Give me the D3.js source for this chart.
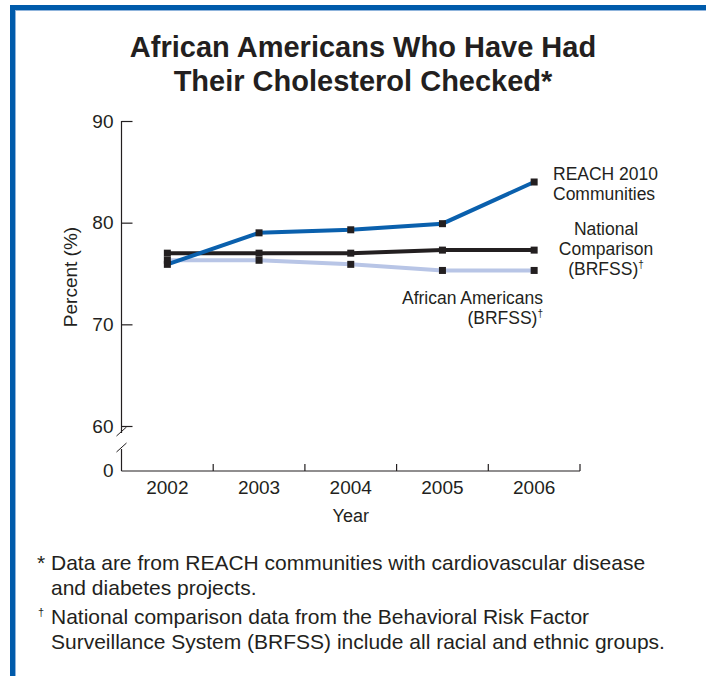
<!DOCTYPE html>
<html>
<head>
<meta charset="utf-8">
<script src="https://cdn.jsdelivr.net/npm/d3@7"></script>
<style>
  body { margin: 0; background: #fff; }
  svg { display: block; font-family: "Liberation Sans", Arial, Helvetica, sans-serif; }
  text { fill: #231f20; }
</style>
</head>
<body>
<svg id="chart"></svg>
<script>
// data
var years = ["2002", "2003", "2004", "2005", "2006"];
var reach = [75.9, 79.0, 79.3, 79.9, 84.0];
var national = [77.0, 77.0, 77.0, 77.3, 77.3];
var africanAm = [76.3, 76.3, 75.9, 75.3, 75.3];
var yTicks = [60, 70, 80, 90];

var titleLines = ["African Americans Who Have Had", "Their Cholesterol Checked*"];
var footnotes = [
    { text: "* Data are from REACH communities with cardiovascular disease", x: 37 },
    { text: "and diabetes projects.", x: 51 },
    { text: "National comparison data from the Behavioral Risk Factor", x: 51, dagger: true },
    { text: "Surveillance System (BRFSS) include all racial and ethnic groups.", x: 51 }
];

var width = 706, height = 676;
var ink = "#231f20";
var svg = d3.select("#chart").attr("width", width).attr("height", height);

// blue frame
svg.append("rect").attr("x", 10).attr("y", 5).attr("width", 696).attr("height", 5).attr("fill", "#005bab");
svg.append("rect").attr("x", 10).attr("y", 5).attr("width", 5).attr("height", 671).attr("fill", "#005bab");
svg.append("rect").attr("x", 15).attr("y", 10).attr("width", 691).attr("height", 1).attr("fill", "#8fb4dc");
svg.append("rect").attr("x", 15).attr("y", 10).attr("width", 1).attr("height", 666).attr("fill", "#8fb4dc");

// title
svg.append("g").selectAll("text")
    .data(titleLines)
    .enter()
    .append("text")
    .attr("x", 363)
    .attr("y", function(d, i) { return 57 + i * 34; })
    .attr("text-anchor", "middle")
    .style("font-size", "29px")
    .style("font-weight", "bold")
    .text(function(d) { return d; });

var left = 121.5, right = 580, axisY = 471;
var xScale = d3.scaleBand().domain(years).range([left, right]).padding(0);
var yScale = d3.scaleLinear().domain([60, 90]).range([426, 121]);

var g = svg.append("g");

// y axis (with break)
g.append("line").attr("x1", left).attr("x2", left).attr("y1", yScale(90)).attr("y2", 433)
    .attr("stroke", ink).attr("stroke-width", 1.2);
g.append("line").attr("x1", left).attr("x2", left).attr("y1", 449).attr("y2", axisY)
    .attr("stroke", ink).attr("stroke-width", 1.2);
[433, 449].forEach(function(y) {
    g.append("line")
        .attr("x1", left - 5).attr("y1", y + 3)
        .attr("x2", left + 5).attr("y2", y - 6)
        .attr("stroke", ink).attr("stroke-width", 1);
});

var yAxis = d3.axisLeft(yScale).tickValues(yTicks).tickSize(-11).tickFormat(d3.format("d"));
var yAxisG = g.append("g").attr("transform", "translate(" + left + ",0)").call(yAxis);
yAxisG.select(".domain").remove();
yAxisG.selectAll(".tick line").attr("stroke", ink).attr("stroke-width", 1.2);
yAxisG.selectAll(".tick text")
    .attr("x", -8)
    .style("font-size", "19px")
    .style("font-family", "Liberation Sans, Arial, sans-serif")
    .attr("fill", ink);

// zero label at the baseline
g.append("text").attr("x", left - 8).attr("y", axisY).attr("dy", "0.32em")
    .attr("text-anchor", "end").style("font-size", "19px").text("0");

// x axis
g.append("line").attr("x1", left).attr("x2", right).attr("y1", axisY).attr("y2", axisY)
    .attr("stroke", ink).attr("stroke-width", 1.2);
g.selectAll(".xtick")
    .data(years)
    .enter()
    .append("line")
    .attr("class", "xtick")
    .attr("x1", function(d) { return xScale(d) + xScale.bandwidth(); })
    .attr("x2", function(d) { return xScale(d) + xScale.bandwidth(); })
    .attr("y1", axisY)
    .attr("y2", axisY - 7)
    .attr("stroke", ink).attr("stroke-width", 1.2);
g.selectAll(".xlabel")
    .data(years)
    .enter()
    .append("text")
    .attr("class", "xlabel")
    .attr("x", function(d) { return xScale(d) + xScale.bandwidth() / 2; })
    .attr("y", 494)
    .attr("text-anchor", "middle")
    .style("font-size", "19px")
    .text(function(d) { return d; });

g.append("text").attr("x", xScale("2004") + xScale.bandwidth() / 2).attr("y", 522)
    .attr("text-anchor", "middle").style("font-size", "18px").text("Year");

g.append("text")
    .attr("transform", "translate(77,277) rotate(-90)")
    .attr("text-anchor", "middle")
    .style("font-size", "19px")
    .text("Percent (%)");

// lines
var series = [
    { values: africanAm, color: "#b8c5e6" },
    { values: national, color: "#231f20" },
    { values: reach, color: "#0a60ad" }
];
var line = d3.line()
    .x(function(d, i) { return xScale(years[i]) + xScale.bandwidth() / 2; })
    .y(function(d) { return yScale(d); });

g.selectAll(".series")
    .data(series)
    .enter()
    .append("path")
    .attr("class", "series")
    .attr("d", function(d) { return line(d.values); })
    .attr("fill", "none")
    .attr("stroke", function(d) { return d.color; })
    .attr("stroke-width", 4);

// markers
series.forEach(function(s) {
    g.selectAll(null)
        .data(s.values)
        .enter()
        .append("rect")
        .attr("x", function(d, i) { return xScale(years[i]) + xScale.bandwidth() / 2 - 3.5; })
        .attr("y", function(d) { return yScale(d) - 3.5; })
        .attr("width", 7)
        .attr("height", 7)
        .attr("fill", "#231f20");
});

// series labels
function label(lines, x, y0, anchor, dagger) {
    var t = g.append("g");
    lines.forEach(function(l, i) {
        var tx = t.append("text")
            .attr("x", x)
            .attr("y", y0 + i * 20)
            .attr("text-anchor", anchor)
            .style("font-size", "17.5px")
            .text(l);
        if (dagger && i === lines.length - 1) {
            tx.append("tspan").attr("dy", -7).style("font-size", "10px").text("\u2020");
        }
    });
}
label(["REACH 2010", "Communities"], 553, 180, "start", false);
label(["National", "Comparison", "(BRFSS)"], 606, 235, "middle", true);
label(["African Americans", "(BRFSS)"], 543, 304, "end", true);

// footnotes
var fn = svg.append("g");
footnotes.forEach(function(f, i) {
    var y = [570, 595, 624, 649][i];
    if (f.dagger) {
        fn.append("text").attr("x", 38).attr("y", y - 8).style("font-size", "11px").text("\u2020");
    }
    fn.append("text")
        .attr("x", f.x)
        .attr("y", y)
        .style("font-size", "21px")
        .text(f.text);
});
</script>
</body>
</html>
